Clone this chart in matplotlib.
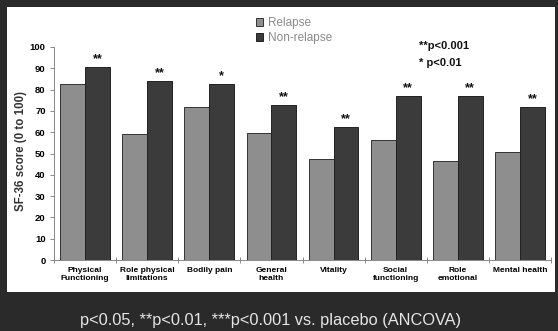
import numpy as np
import matplotlib
matplotlib.use('Agg')
import matplotlib.pyplot as plt
from matplotlib.patches import Rectangle

plt.rcParams['font.family'] = ['Liberation Sans', 'DejaVu Sans']

# SF-36 domains
categories = ['Physical\nFunctioning', 'Role physical\nlimitations', 'Bodily pain',
              'General\nhealth', 'Vitality', 'Social\nfunctioning', 'Role\nemotional',
              'Mental health']
relapse = [82.5, 59, 72, 59.5, 47.3, 56.3, 46.6, 50.8]
non_relapse = [90.7, 84, 82.5, 72.8, 62.6, 77, 77, 71.7]
stars = ['**', '**', '*', '**', '**', '**', '**', '**']

fig = plt.figure(figsize=(5.58, 3.31), dpi=100)
fig.patch.set_facecolor('#2a2a2a')
# white slide panel
fig.patches.append(Rectangle((7/558, 1 - 292/331), 548/558, 285/331,
                             transform=fig.transFigure, facecolor='white',
                             edgecolor='none', zorder=-1))

ax = fig.add_axes([54/558, 1 - 260/331, 497/558, 213/331])
ax.set_facecolor('none')
ax.set_zorder(2)

x = np.arange(len(categories))
w = 0.4
ax.bar(x - w/2, relapse, w, color='#8e8e8e', edgecolor='#333333', linewidth=0.7,
       label='Relapse', zorder=2)
ax.bar(x + w/2, non_relapse, w, color='#3b3b3b', edgecolor='#222222', linewidth=0.7,
       label='Non-relapse', zorder=2)

for i, (v, s) in enumerate(zip(non_relapse, stars)):
    ax.text(x[i] + w/2, v + 0.8, s, ha='center', va='bottom', fontsize=9,
            fontweight='bold', color='#111111')

ax.set_xlim(-0.5, len(categories) - 0.5)
ax.set_ylim(0, 100)
ax.set_yticks(np.arange(0, 101, 10))
ax.tick_params(axis='y', labelsize=6.8, length=3, width=0.6, color='#777777', pad=3)
for lab in ax.get_yticklabels():
    lab.set_fontweight('bold')

ax.set_xticks(x)
ax.set_xticklabels(categories, fontsize=6, fontweight='bold', linespacing=1.3)
ax.tick_params(axis='x', length=0, pad=5)
ax.set_xticks(np.arange(-0.5, len(categories)), minor=True)
ax.tick_params(axis='x', which='minor', direction='inout', length=5, width=0.6,
               color='#777777')

for side in ['top', 'right']:
    ax.spines[side].set_visible(False)
ax.spines['left'].set_color('#888888')
ax.spines['bottom'].set_color('#888888')
ax.spines['left'].set_linewidth(0.7)
ax.spines['bottom'].set_linewidth(0.7)

fig.text(21/558, 1 - 151/331, 'SF-36 score (0 to 100)', rotation=90, ha='center',
         va='center', fontsize=8.3, fontweight='bold', color='#333333')

leg = fig.legend(loc='upper left', bbox_to_anchor=(256/558, 1 - 17/331), frameon=False,
                 fontsize=8.5, handlelength=0.6, handleheight=0.6, handletextpad=0.4,
                 labelspacing=0.25, borderaxespad=0, borderpad=0)
for t in leg.get_texts():
    t.set_color('#8a8a8a')

fig.text(419/558, 1 - 46/331, '**p<0.001', fontsize=8, fontweight='bold',
         ha='left', va='center', color='#111111')
fig.text(419/558, 1 - 63/331, '* p<0.01', fontsize=8, fontweight='bold',
         ha='left', va='center', color='#111111')

fig.text(271/558, 1 - 320/331, 'p<0.05, **p<0.01, ***p<0.001 vs. placebo (ANCOVA)',
         ha='center', va='center', fontsize=11.8, color='#e6e6e6')

fig.savefig('out.png', dpi=100, facecolor=fig.get_facecolor())
